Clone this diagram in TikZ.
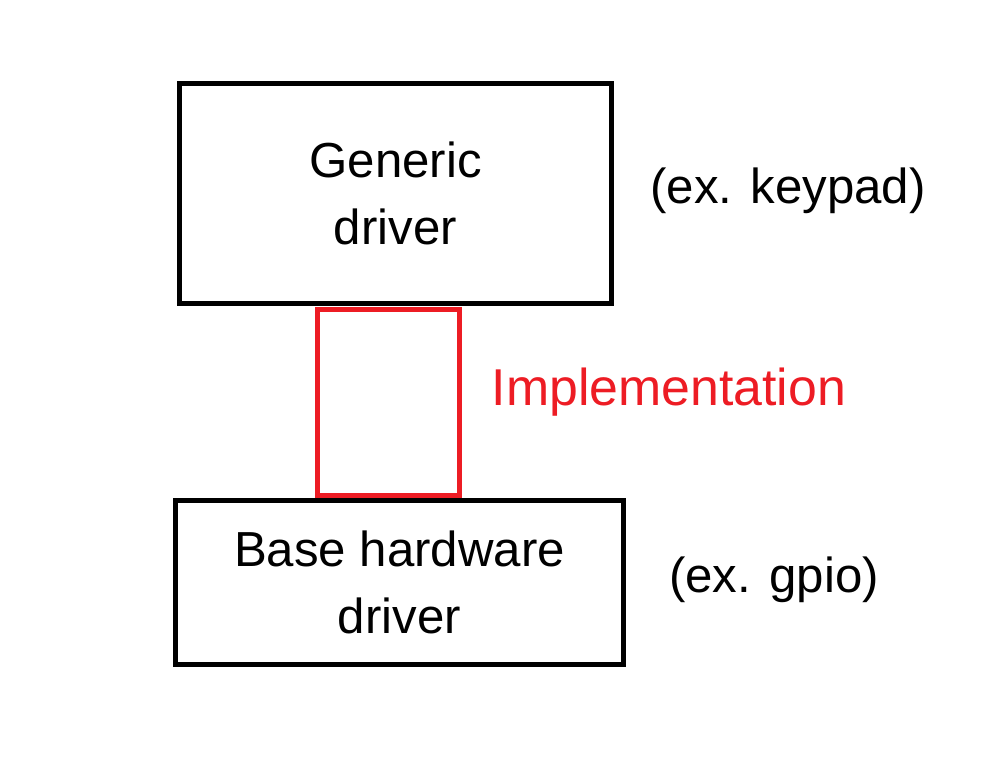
\documentclass[tikz,border=0pt]{standalone}
\usepackage{fontspec}
\setmainfont{Liberation Sans}
\usepackage{tikz}
\usetikzlibrary{positioning}

\definecolor{implred}{RGB}{237,28,36}

\tikzset{
    drvbox/.style={draw=black, line width=0.1cm, align=center, inner sep=0pt},
    lbl/.style={font=\fontsize{28}{38}\selectfont}
}

\begin{document}
\begin{tikzpicture}[x=0.02cm,y=-0.02cm]
        \useasboundingbox (0,0) rectangle (1004,764);

        \node[drvbox, lbl, minimum width=8.64cm, minimum height=4.4cm] (generic) at (395.5,193.5) {Generic\\driver};
        \node[drvbox, draw=implred, minimum width=2.84cm, minimum height=3.73cm] (impl) at (388.5,402.25) {};
        \node[drvbox, lbl, minimum width=8.96cm, minimum height=3.28cm] (base) at (399.5,582.5) {Base hardware\\driver};

        \node[lbl] (keypad) at (788,191) {(ex. keypad)};
        \node[lbl, font=\fontsize{29.5}{38}\selectfont, text=implred] (impltext) at (669,392) {Implementation};
        \node[lbl] (gpio) at (774,580) {(ex. gpio)};
\end{tikzpicture}
\end{document}
